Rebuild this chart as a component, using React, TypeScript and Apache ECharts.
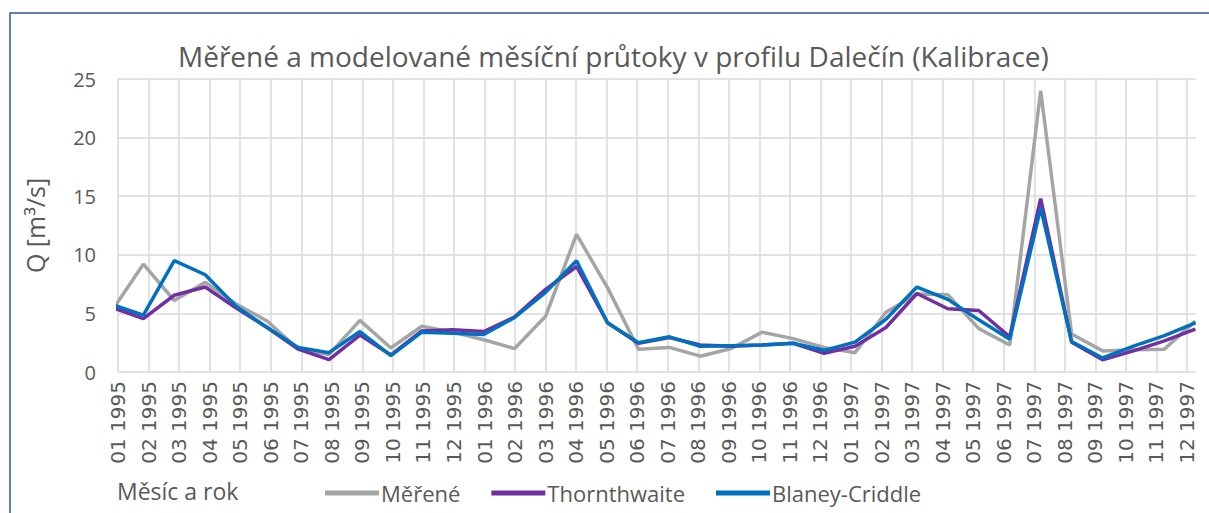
import React, { useEffect, useRef } from 'react';
import * as echarts from 'echarts';

const months = [
  '01 1995', '02 1995', '03 1995', '04 1995', '05 1995', '06 1995',
  '07 1995', '08 1995', '09 1995', '10 1995', '11 1995', '12 1995',
  '01 1996', '02 1996', '03 1996', '04 1996', '05 1996', '06 1996',
  '07 1996', '08 1996', '09 1996', '10 1996', '11 1996', '12 1996',
  '01 1997', '02 1997', '03 1997', '04 1997', '05 1997', '06 1997',
  '07 1997', '08 1997', '09 1997', '10 1997', '11 1997', '12 1997',
];

const measured = [
  5.3, 9.2, 6.1, 7.65, 5.8, 4.35, 1.95, 1.5, 4.4, 2.05, 3.9, 3.4,
  2.75, 2.0, 4.75, 11.75, 7.2, 1.95, 2.1, 1.35, 2.0, 3.4, 2.85, 2.1,
  1.65, 5.1, 6.65, 6.6, 3.7, 2.3, 24.0, 3.25, 1.8, 1.9, 1.95, 4.35,
];

const thornthwaite = [
  5.5, 4.55, 6.55, 7.25, 5.45, 3.8, 1.95, 1.05, 3.15, 1.45, 3.5, 3.6,
  3.45, 4.7, 7.05, 9.0, 4.2, 2.45, 2.95, 2.3, 2.2, 2.3, 2.45, 1.6,
  2.2, 3.8, 6.7, 5.4, 5.25, 3.0, 14.8, 2.55, 1.05, 1.8, 2.65, 3.65,
];

const blaneyCriddle = [
  5.75, 4.85, 9.5, 8.3, 5.6, 3.8, 2.1, 1.65, 3.45, 1.4, 3.4, 3.3,
  3.2, 4.65, 6.8, 9.5, 4.2, 2.5, 3.0, 2.2, 2.25, 2.3, 2.45, 1.85,
  2.55, 4.5, 7.25, 6.2, 4.45, 2.8, 14.0, 2.6, 1.2, 2.2, 3.1, 4.2,
];

const seriesNames = ['Měřené', 'Thornthwaite', 'Blaney-Criddle'];
const seriesColors = ['#A5A5A5', '#7030A0', '#0070C0'];
const titleText = 'Měřené a modelované měsíční průtoky v profilu Dalečín (Kalibrace)';
const yAxisName = 'Q [m³/s]';
const xAxisName = 'Měsíc a rok';
const yMin = 0;
const yMax = 25;
const yStep = 5;

export default function App() {
  const ref = useRef<HTMLDivElement>(null);

  useEffect(() => {
    if (!ref.current) return;
    const chart = echarts.init(ref.current, null, { renderer: 'svg' });
    const font = '"Open Sans", sans-serif';
    const textColor = '#595959';
    const gridColor = '#D9D9D9';
    const toPts = (arr: number[]) => arr.map((v, i) => [i, v]);
    const dataSets = [measured, thornthwaite, blaneyCriddle];

    chart.setOption({
      animation: false,
      title: {
        text: titleText,
        left: 173,
        top: 37,
        textStyle: { fontFamily: font, fontSize: 28, fontWeight: 'normal', color: textColor },
      },
      grid: [
        { left: 118, top: 79, width: 1069, height: 293 },
        { left: 118, top: 79, width: 1078, height: 293 },
      ],
      xAxis: [
        {
          type: 'category',
          gridIndex: 0,
          data: months,
          boundaryGap: false,
          axisLine: { show: false },
          axisTick: { show: false },
          axisLabel: {
            rotate: 90,
            margin: 9,
            interval: 0,
            fontSize: 20,
            fontFamily: '"DejaVu Sans", sans-serif',
            color: textColor,
          },
          splitLine: { show: true, lineStyle: { color: gridColor, width: 1.5 } },
        },
        { type: 'value', gridIndex: 1, min: 0.181, max: 35.02, show: false },
      ],
      yAxis: [
        { type: 'value', gridIndex: 0, min: yMin, max: yMax, interval: yStep, show: false },
        {
          type: 'value',
          gridIndex: 1,
          min: yMin,
          max: yMax,
          interval: yStep,
          name: yAxisName,
          nameLocation: 'middle',
          nameRotate: 90,
          nameGap: 71,
          nameTextStyle: { fontFamily: font, fontSize: 25, color: textColor },
          axisLine: { show: false },
          axisTick: { show: false },
          axisLabel: { margin: 22, fontFamily: font, fontSize: 20, color: textColor },
          splitLine: { show: true, lineStyle: { color: gridColor, width: 1.5 } },
        },
      ],
      legend: {
        left: 320,
        top: 477,
        icon: 'rect',
        itemWidth: 54,
        itemHeight: 5,
        itemGap: 31,
        textStyle: { fontFamily: font, fontSize: 22, color: textColor, padding: [0, 0, 0, -3] },
        data: seriesNames,
      },
      graphic: [
        {
          type: 'polyline',
          shape: { points: [[10, 513], [10, 13], [1209, 13]] },
          style: { stroke: '#2F5597', lineWidth: 1.5, fill: 'none' },
          silent: true,
        },
        {
          type: 'text',
          left: 117,
          top: 479,
          style: { text: xAxisName, fontFamily: font, fontSize: 23, fill: textColor },
          silent: true,
        },
      ],
      series: dataSets.map((arr, k) => ({
        name: seriesNames[k],
        type: 'line',
        xAxisIndex: 1,
        yAxisIndex: 1,
        data: toPts(arr),
        symbol: 'none',
        showSymbol: false,
        color: seriesColors[k],
        lineStyle: { color: seriesColors[k], width: 3.5 },
        z: 2 + k,
      })),
    });

    return () => chart.dispose();
  }, []);

  return (
    <div
      ref={ref}
      style={{ position: 'absolute', left: 0, top: 0, width: 1209, height: 513 }}
    />
  );
}
